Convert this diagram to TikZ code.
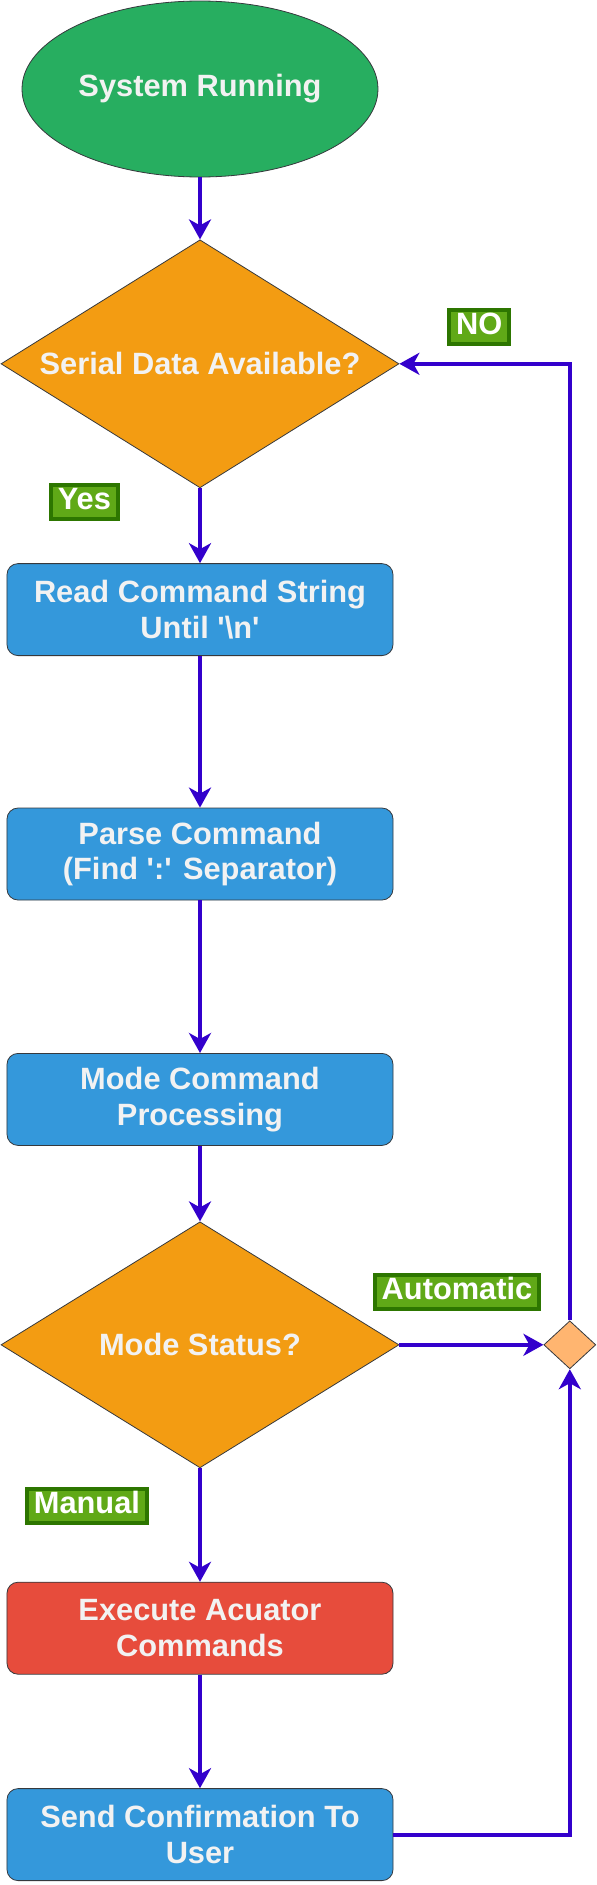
\documentclass[tikz,border=0pt]{standalone}
\usepackage{fontspec}
\setmainfont{Liberation Sans}[Ligatures=TeXOff]
\usepackage{tikz}
\usetikzlibrary{ positioning, arrows.meta, shapes.geometric }
\usepackage{xcolor}
\definecolor{startgreen}{HTML}{27ae60}
\definecolor{decorange}{HTML}{f39c12}
\definecolor{procblue}{HTML}{3498db}
\definecolor{procred}{HTML}{e74c3c}
\definecolor{flowline}{HTML}{3300cc}
\definecolor{lblfill}{HTML}{60a917}
\definecolor{lblline}{HTML}{2d7600}
\definecolor{joinfill}{HTML}{ffb570}
\definecolor{outline}{HTML}{36393d}
\definecolor{lighttext}{HTML}{f2f2f2}

\begin{document}
\begin{tikzpicture}[
  font=\fontsize{15.4}{17.8}\selectfont\bfseries,
  term/.style={draw=outline, ellipse, fill=startgreen, text=lighttext,
              minimum width=178pt, minimum height=88pt, inner sep=0pt},
  dec/.style={draw=outline, diamond, aspect=1.6, fill=decorange, text=lighttext,
              minimum width=199pt, minimum height=124pt, inner sep=0pt},
  proc/.style={draw=outline, rounded corners=5.5pt, fill=procblue, text=lighttext,
              minimum width=193pt, minimum height=46pt, align=center, inner sep=2pt},
  joint/.style={draw=outline, diamond, fill=joinfill, minimum width=26pt, minimum height=24pt, inner sep=0pt},
  lbl/.style={draw=lblline, fill=lblfill, text=white, inner xsep=3.5pt, inner ysep=1.5pt,
              text height=11pt, text depth=3pt},
  ar/.style={-{Stealth[length=10pt, width=11pt, inset=3pt]}, line width=2pt, flowline},
]
  \useasboundingbox (-100pt,44.5pt) rectangle (198pt,-898pt);
  \node[term] (start) {System Running};
  \node[dec, below=31pt of start] (serial) {Serial Data Available?};
  \node[proc, below=37.5pt of serial] (read) {Read Command String\\Until '\textbackslash n'};
  \node[proc, below=75.8pt of read] (parse) {Parse Command\\(Find ':' Separator)};
  \node[proc, below=76.3pt of parse] (mode) {Mode Command\\Processing};
  \node[dec, below=37.8pt of mode, minimum height=123pt] (status) {Mode Status?};
  \node[proc, below=56.8pt of status, fill=procred] (exec) {Execute Acuator\\Commands};
  \node[proc, below=56.8pt of exec] (send) {Send Confirmation To\\User};
  \node[joint, right=72pt of status] (join) {};
  \draw[ar] (start) -- (serial);
  \draw[ar] (serial) -- node[lbl, pos=0.18, left=40pt] (lyes) {Yes} (read);
  \draw[ar] (read) -- (parse);
  \draw[ar] (parse) -- (mode);
  \draw[ar] (mode) -- (status);
  \draw[ar] (status) -- node[lbl, pos=0.33, left=25.5pt] (lmanual) {Manual\ } (exec);
  \draw[ar] (status) -- node[lbl, pos=0.4, above=17pt] (lauto) {Automatic} (join);
  \draw[ar] (exec) -- (send);
  \draw[ar] (send) -| (join);
  \draw[ar] (join) |- node[lbl, pos=0.766, above=9pt] (lno) {NO} (serial);
\end{tikzpicture}
\end{document}
